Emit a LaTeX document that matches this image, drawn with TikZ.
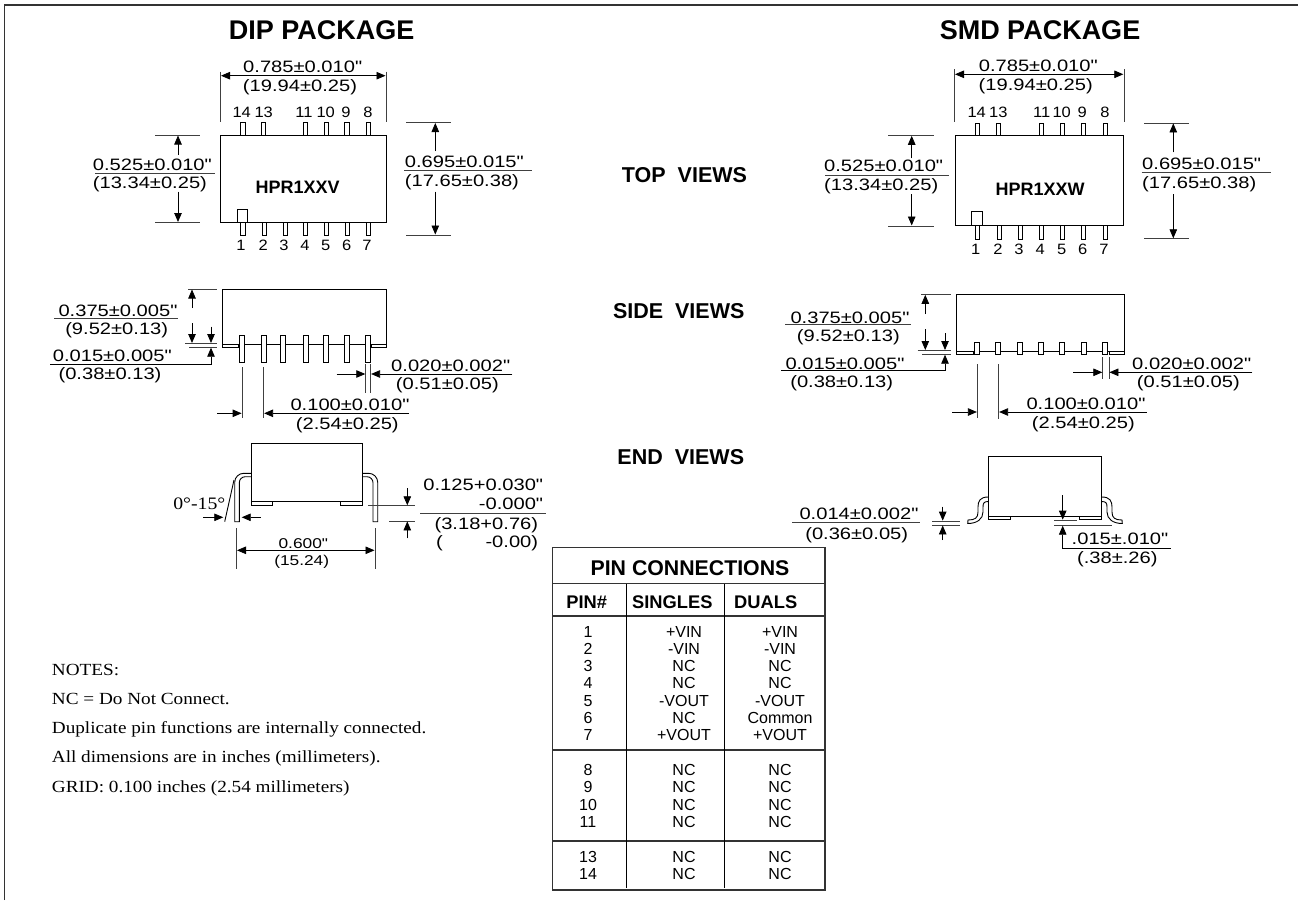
\documentclass[tikz,border=0pt]{standalone}
\usepackage{fontspec}
\usetikzlibrary{arrows.meta}
\setmainfont{Liberation Sans}
\newfontfamily\stretchsans[FakeStretch=1.22]{Liberation Sans}
\newfontfamily\pinsans[FakeStretch=1.1]{Liberation Sans}
\newfontfamily\notesserif[FakeStretch=1.13]{Liberation Serif}
\tikzset{
  outline/.style={line width=1pt},
  lead/.style={line width=0.9pt, fill=white},
  dimline/.style={line width=0.8pt, black!75},
  dimarrow/.style={line width=0.8pt, -{Triangle[length=9pt,width=7.5pt]}},
  bothways/.style={line width=0.8pt, {Triangle[length=9pt,width=7.5pt]}-{Triangle[length=9pt,width=7.5pt]}},
  dimtext/.style={inner sep=0pt, text height=11.5pt, text depth=0pt, font=\stretchsans\fontsize{16.5}{16}\selectfont},
  smalltext/.style={dimtext, font=\stretchsans\fontsize{14.2}{15}\selectfont},
  pinno/.style={inner sep=0pt, text height=10.5pt, text depth=0pt, font=\pinsans\fontsize{15}{15}\selectfont},
  bigtitle/.style={inner sep=0pt, text height=19pt, text depth=0pt, font=\bfseries\fontsize{27}{27}\selectfont},
  viewtitle/.style={inner sep=0pt, text height=15.5pt, text depth=0pt, font=\bfseries\fontsize{21.5}{22}\selectfont},
  parttext/.style={inner sep=0pt, text height=12.5pt, text depth=0pt, font=\bfseries\fontsize{18}{18}\selectfont},
  headtext/.style={inner sep=0pt, text height=13pt, text depth=0pt, font=\bfseries\fontsize{18.3}{18}\selectfont},
  celltext/.style={inner sep=0pt, text height=11pt, text depth=0pt, font=\fontsize{16}{16}\selectfont},
  notetext/.style={inner sep=0pt, anchor=west, text height=11pt, text depth=0pt, font=\notesserif\fontsize{17}{17}\selectfont},
}
\begin{document}
\begin{tikzpicture}[x=1pt, y=-1pt]
  \useasboundingbox (0,0) rectangle (1298,900);
  \fill[white] (0,0) rectangle (1298,900);
  \draw[line width=1.3pt, black!80] (4.5,900) -- (4.5,5) -- (1298,5);

  % titles
  \node[bigtitle] (dipTitle) at (321.7,30) {DIP PACKAGE};
  \node[bigtitle] (smdTitle) at (1040,30) {SMD PACKAGE};
  \node[viewtitle] (topViews) at (684.5,174.3) {TOP\ \ VIEWS};
  \node[viewtitle] (sideViews) at (678.7,310.7) {SIDE\ \ VIEWS};
  \node[viewtitle] (endViews) at (680.8,456.7) {END\ \ VIEWS};

  % DIP top view
  \foreach \x in {243,263.3,305.7,326.3,347,368.7}
    \draw[lead] (\x-2.2,122.7) rectangle (\x+2.2,135);
  \foreach \x in {243,264.3,285.3,305.7,326.3,347.3,368.7}
    \draw[lead] (\x-2.2,222.3) rectangle (\x+2.2,235.7);
  \draw[outline] (220.7,135) rectangle (386,222.3);
  \draw[line width=0.8pt, fill=white] (237.3,209) rectangle (247.7,222.3);
  \node[parttext] (dipPart) at (297.7,187.7) {HPR1XXV};
  \foreach \n/\x in {14/241.7,13/263.7,11/304,10/325.7,9/346,8/368}
    \node[pinno] (dipTop\n) at (\x,112.7) {\n};
  \foreach \n/\x in {1/241,2/263.3,3/284,4/305,5/325.7,6/346.7,7/367}
    \node[pinno] (dipBot\n) at (\x,245.7) {\n};
  \draw[dimline] (220,71.7) -- (220,121.7);
  \draw[dimline] (386.3,71.7) -- (386.3,121.7);
  \draw[bothways] (221,75.7) -- (385.5,75.7);
  \node[dimtext] (dipWidthIn) at (302.7,66.7) {0.785±0.010"};
  \node[dimtext] (dipWidthMm) at (300,86) {(19.94±0.25)};
  \draw[dimline] (155.3,135) -- (200,135);
  \draw[dimline] (155.3,222.7) -- (200,222.7);
  \draw[dimarrow] (178,155) -- (178,135.5);
  \draw[dimarrow] (178,191.7) -- (178,222);
  \draw[dimline] (95,173.7) -- (215,173.7);
  \node[dimtext, anchor=west] (dipLenIn) at (92.7,164.3) {0.525±0.010"};
  \node[dimtext, anchor=west] (dipLenMm) at (92.7,182.7) {(13.34±0.25)};
  \draw[dimline] (406,122.7) -- (450.7,122.7);
  \draw[dimline] (406,235) -- (450.7,235);
  \draw[dimarrow] (435.3,151) -- (435.3,123);
  \draw[dimarrow] (435.3,191.7) -- (435.3,234.5);
  \draw[dimline] (404,170.7) -- (531.7,170.7);
  \node[dimtext, anchor=west] (dipSpanIn) at (404.7,161.7) {0.695±0.015"};
  \node[dimtext, anchor=west] (dipSpanMm) at (404.7,180.7) {(17.65±0.38)};

  % DIP side view
  \draw[outline] (222,289) rectangle (386.7,344);
  \draw[line width=0.9pt] (222,344) rectangle (238,347.3);
  \draw[line width=0.9pt] (371,344) rectangle (386.7,347.3);
  \foreach \x in {242,264,283.3,305.7,326,346.7,368.3}
    \draw[lead] (\x-2.4,335.7) rectangle (\x+2.4,362);
  \draw[dimline] (188,289) -- (217,289);
  \draw[dimline] (185,343.3) -- (217,343.3);
  \draw[dimline] (189,347.3) -- (217,347.3);
  \draw[dimarrow] (192,308) -- (192,289.5);
  \draw[dimarrow] (192,323) -- (192,343);
  \draw[dimarrow] (211,326.7) -- (211,343);
  \draw[dimarrow] (50,364) -- (211,364) -- (211,347.7);
  \draw[dimline] (54,318.7) -- (177.7,318.7);
  \node[dimtext] (dipHighIn) at (118,311) {0.375±0.005"};
  \node[dimtext] (dipHighMm) at (116.7,329) {(9.52±0.13)};
  \node[dimtext] (dipGapIn) at (112.3,356) {0.015±0.005"};
  \node[dimtext] (dipGapMm) at (110,374) {(0.38±0.13)};
  \draw[dimline] (365.7,364) -- (365.7,393.3);
  \draw[dimline] (370.7,364) -- (370.7,393.3);
  \draw[dimarrow] (336.7,374) -- (365.3,374);
  \draw[dimarrow] (512.3,374) -- (371.1,374);
  \node[dimtext] (dipLeadIn) at (450.7,365.3) {0.020±0.002"};
  \node[dimtext] (dipLeadMm) at (447.3,383.3) {(0.51±0.05)};
  \draw[dimline] (242,367.3) -- (242,418.3);
  \draw[dimline] (263.7,367.3) -- (263.7,418.3);
  \draw[dimarrow] (217.3,413.3) -- (241.6,413.3);
  \draw[dimarrow] (409,413.3) -- (264.1,413.3);
  \node[dimtext] (dipPitchIn) at (350,405) {0.100±0.010"};
  \node[dimtext] (dipPitchMm) at (347.3,423.3) {(2.54±0.25)};

  % DIP end view
  \draw[outline] (251.7,443.3) rectangle (362.3,501.3);
  \draw[line width=0.9pt] (251.7,501.3) rectangle (272,505.3);
  \draw[line width=0.9pt] (340.3,501.3) rectangle (362.3,505.3);
  \draw[line width=0.9pt, rounded corners=9pt] (251.7,473.3) -- (234.7,473.3) -- (234.7,500)
    [sharp corners] -- (234.7,521.7) -- (239.3,521.7) -- (239.3,500)
    [rounded corners=6pt] -- (239.3,476.7) -- (251.7,476.7);
  \draw[line width=0.9pt, rounded corners=9pt] (362.3,473.3) -- (377.7,473.3) -- (377.7,500)
    [sharp corners] -- (377.7,521.7) -- (373,521.7) -- (373,500)
    [rounded corners=6pt] -- (373,476.7) -- (362.3,476.7);
  \draw[line width=0.9pt] (234,480) -- (224.7,521.7);
  \node[dimtext, font=\notesserif\fontsize{17.5}{15}\selectfont] (dipAngle) at (199.3,504) {0°-15°};
  \draw[dimarrow] (203.3,517.3) -- (223.3,517.3);
  \draw[dimarrow] (260.7,517.3) -- (241.7,517.3);
  \draw[dimline] (236.3,528.3) -- (236.3,569.3);
  \draw[dimline] (375,528.3) -- (375,569.3);
  \draw[bothways] (237,550.3) -- (374.5,550.3);
  \node[smalltext] (dipRowIn) at (303.3,542.7) {0.600"};
  \node[smalltext] (dipRowMm) at (301.7,559.3) {(15.24)};
  \draw[dimline] (368.3,505.7) -- (415,505.7);
  \draw[dimline] (389.3,521) -- (415,521);
  \draw[dimarrow] (407.3,488.3) -- (407.3,505.3);
  \draw[dimarrow] (407.3,538.3) -- (407.3,521.4);
  \draw[dimline] (420,513.3) -- (545.7,513.3);
  \node[dimtext, anchor=east] (dipSeatIn) at (543.3,485) {0.125+0.030"};
  \node[dimtext, anchor=east] (dipSeatTol) at (543.3,504) {-0.000"};
  \node[dimtext, anchor=east] (dipSeatMm) at (538.3,523.3) {(3.18+0.76)};
  \node[dimtext, anchor=west] (dipSeatOpen) at (436,541.7) {(};
  \node[dimtext, anchor=east] (dipSeatMmTol) at (538.3,541.7) {-0.00)};

  % SMD top view
  \foreach \x in {977.3,998.7,1041.7,1062.7,1083.7,1105.7}
    \draw[lead] (\x-2.2,123) rectangle (\x+2.2,135.3);
  \foreach \x in {977.3,999.3,1020.3,1041.7,1062.7,1083.7,1105.7}
    \draw[lead] (\x-2.2,225.3) rectangle (\x+2.2,239);
  \draw[outline] (955,135.3) rectangle (1123.3,225.3);
  \draw[line width=0.8pt, fill=white] (971.7,211.7) rectangle (982.3,225.3);
  \node[parttext] (smdPart) at (1040,189) {HPR1XXW};
  \foreach \n/\x in {14/976.7,13/998.3,11/1041.7,10/1061.7,9/1082.3,8/1105}
    \node[pinno] (smdTop\n) at (\x,112.7) {\n};
  \foreach \n/\x in {1/975.7,2/998,3/1019,4/1040.3,5/1061.7,6/1082.7,7/1104}
    \node[pinno] (smdBot\n) at (\x,249.3) {\n};
  \draw[dimline] (954,69.3) -- (954,122.3);
  \draw[dimline] (1124,69.3) -- (1124,122.3);
  \draw[bothways] (955,74.3) -- (1123.3,74.3);
  \node[dimtext] (smdWidthIn) at (1038.3,65.7) {0.785±0.010"};
  \node[dimtext] (smdWidthMm) at (1035.7,85) {(19.94±0.25)};
  \draw[dimline] (888,135.3) -- (933.7,135.3);
  \draw[dimline] (888,226) -- (933.7,226);
  \draw[dimarrow] (911.7,158.3) -- (911.7,135.8);
  \draw[dimarrow] (911.7,194) -- (911.7,225.5);
  \draw[dimline] (825,175.3) -- (948.7,175.3);
  \node[dimtext, anchor=west] (smdLenIn) at (824,165.7) {0.525±0.010"};
  \node[dimtext, anchor=west] (smdLenMm) at (824,184.3) {(13.34±0.25)};
  \draw[dimline] (1144,123) -- (1189.3,123);
  \draw[dimline] (1144,238.7) -- (1189.3,238.7);
  \draw[dimarrow] (1173.3,152.3) -- (1173.3,123.4);
  \draw[dimarrow] (1173.3,194) -- (1173.3,238.3);
  \draw[dimline] (1141.7,172.3) -- (1271,172.3);
  \node[dimtext, anchor=west] (smdSpanIn) at (1142,164) {0.695±0.015"};
  \node[dimtext, anchor=west] (smdSpanMm) at (1142,182.7) {(17.65±0.38)};

  % SMD side view
  \draw[outline] (956,294.3) rectangle (1124.3,351);
  \draw[line width=0.9pt] (956,351) rectangle (973.5,354.3);
  \draw[line width=0.9pt] (1109,351) rectangle (1124.3,354.3);
  \foreach \x in {977.3,998.3,1019.7,1041,1062.3,1083.7,1105.3}
    \draw[lead] (\x-2.4,342.3) rectangle (\x+2.4,354.3);
  \draw[dimline] (921,294.3) -- (951,294.3);
  \draw[dimline] (917.7,350.3) -- (951,350.3);
  \draw[dimline] (922.3,354.3) -- (951,354.3);
  \draw[dimarrow] (925.3,314) -- (925.3,294.8);
  \draw[dimarrow] (925.3,329) -- (925.3,350);
  \draw[dimarrow] (945,333.3) -- (945,350);
  \draw[dimarrow] (781,370.7) -- (945,370.7) -- (945,354.7);
  \draw[dimline] (785,324) -- (911,324);
  \node[dimtext] (smdHighIn) at (850,317.3) {0.375±0.005"};
  \node[dimtext] (smdHighMm) at (848.3,336) {(9.52±0.13)};
  \node[dimtext] (smdGapIn) at (845,363.3) {0.015±0.005"};
  \node[dimtext] (smdGapMm) at (841.7,381.7) {(0.38±0.13)};
  \draw[dimline] (1102.7,357.3) -- (1102.7,379);
  \draw[dimline] (1109,357.3) -- (1109,379);
  \draw[dimarrow] (1073.3,372.3) -- (1102.3,372.3);
  \draw[dimarrow] (1252.3,372.3) -- (1109.4,372.3);
  \node[dimtext] (smdLeadIn) at (1191.7,363.3) {0.020±0.002"};
  \node[dimtext] (smdLeadMm) at (1188.3,381.7) {(0.51±0.05)};
  \draw[dimline] (977.3,364.3) -- (977.3,417.7);
  \draw[dimline] (998.7,364.3) -- (998.7,419);
  \draw[dimarrow] (952,412) -- (976.9,412);
  \draw[dimarrow] (1146.7,412) -- (999.1,412);
  \node[dimtext] (smdPitchIn) at (1086,404) {0.100±0.010"};
  \node[dimtext] (smdPitchMm) at (1083.3,422.3) {(2.54±0.25)};

  % SMD end view
  \draw[outline] (988.3,456) rectangle (1101.7,516);
  \draw[line width=0.9pt] (988.3,516) rectangle (1010,519.3);
  \draw[line width=0.9pt] (1079.3,516) rectangle (1101.7,519.3);
  \draw[line width=0.9pt] (988.3,497) .. controls (980,497) and (978,501) .. (978,507)
    -- (978,512) .. controls (978,518) and (975,520) .. (968,520) -- (967.7,523.5)
    .. controls (977,523.5) and (983,519) .. (983,512) -- (983,507) .. controls (983,503) and (984,501.5) .. (988.3,501.5);
  \draw[line width=0.9pt] (1101.7,497) .. controls (1110,497) and (1112,501) .. (1112,507)
    -- (1112,512) .. controls (1112,518) and (1115,520) .. (1122,520) -- (1122.3,523.5)
    .. controls (1113,523.5) and (1107,519) .. (1107,512) -- (1107,507) .. controls (1107,503) and (1106,501.5) .. (1101.7,501.5);
  \draw[dimline] (932.3,521) -- (960,521);
  \draw[dimline] (932.3,525) -- (960,525);
  \draw[dimarrow] (942.7,506.7) -- (942.7,520.6);
  \draw[dimarrow] (942.7,540) -- (942.7,525.4);
  \draw[dimline] (792.3,522.3) -- (920,522.3);
  \node[dimtext] (smdSeatIn) at (859,514) {0.014±0.002"};
  \node[dimtext] (smdSeatMm) at (856.7,533.3) {(0.36±0.05)};
  \draw[dimline] (1054.3,520) -- (1076.7,520);
  \draw[dimline] (1054.3,525.3) -- (1111.7,525.3);
  \draw[dimarrow] (1062.7,495) -- (1062.7,519.6);
  \draw[dimarrow] (1170.7,548) -- (1062.7,548) -- (1062.7,525.7);
  \node[dimtext] (smdFootIn) at (1120,538.3) {.015±.010"};
  \node[dimtext] (smdFootMm) at (1117.3,557.7) {(.38±.26)};

  % pin table
  \draw[line width=1.1pt, black!80] (552.7,547.7) rectangle (825,890);
  \draw[line width=1.1pt, black!80] (552.7,583.7) -- (825,583.7);
  \draw[line width=1.1pt, black!80] (552.7,616) -- (825,616);
  \draw[line width=1.1pt, black!80] (552.7,750) -- (825,750);
  \draw[line width=1.1pt, black!80] (552.7,841) -- (825,841);
  \draw[line width=1pt] (626.3,583.7) -- (626.3,887.7);
  \draw[line width=1pt] (724.3,583.7) -- (724.3,887.7);
  \node[bigtitle, text height=15pt, font=\bfseries\fontsize{21.3}{21}\selectfont] (pinTitle) at (690,568.3) {PIN CONNECTIONS};
  \node[headtext] (pinHead) at (586.7,602.3) {PIN\#};
  \node[headtext] (singlesHead) at (672.3,602.3) {SINGLES};
  \node[headtext] (dualsHead) at (765.7,602.3) {DUALS};
  \foreach \y/\n/\sng/\dl in {631.7/1/+VIN/+VIN, 648.7/2/-VIN/-VIN, 665.8/3/NC/NC, 683.3/4/NC/NC,
      700.7/5/-VOUT/-VOUT, 718/6/NC/Common, 735/7/+VOUT/+VOUT,
      770/8/NC/NC, 787.3/9/NC/NC, 805/10/NC/NC, 821.7/11/NC/NC,
      856.7/13/NC/NC, 874/14/NC/NC} {
    \node[celltext] (pinNo\n) at (588,\y) {\n};
    \node[celltext] (pinSingle\n) at (684,\y) {\sng};
    \node[celltext] (pinDual\n) at (780,\y) {\dl};
  }

  % notes
  \node[notetext] (noteHead) at (51.7,670) {NOTES:};
  \node[notetext] (noteNC) at (51.7,699) {NC = Do Not Connect.};
  \node[notetext] (noteDup) at (51.7,728) {Duplicate pin functions are internally connected.};
  \node[notetext] (noteDim) at (51.7,757) {All dimensions are in inches (millimeters).};
  \node[notetext] (noteGrid) at (51.7,787) {GRID: 0.100 inches (2.54 millimeters)};
\end{tikzpicture}
\end{document}
